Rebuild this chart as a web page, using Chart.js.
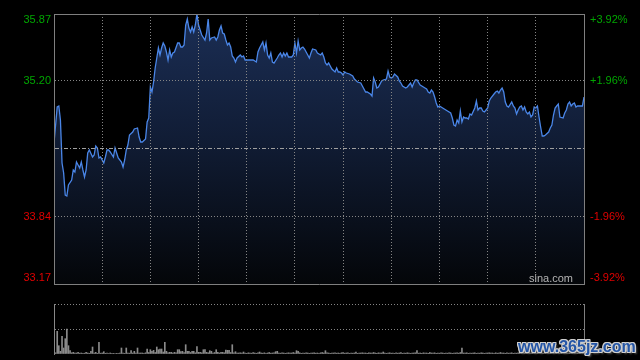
<!DOCTYPE html>
<html>
<head>
<meta charset="utf-8">
<script src="https://cdn.jsdelivr.net/npm/chart.js@4.4.1/dist/chart.umd.min.js"></script>
<style>
  html, body { margin: 0; padding: 0; background: #000; }
  #wrap { position: relative; width: 640px; height: 360px; overflow: hidden; background: #000; }
  #price { position: absolute; left: 0; top: 0; }
  #vol { position: absolute; left: 0; top: 296px; }
  #mark {
    position: absolute; left: 518px; top: 338px; line-height: 16px;
    font: bold 16px "Liberation Sans", Arial, sans-serif; color: #2455a6;
    text-shadow: 1px 0 0 #cfcfcf, -1px 0 0 #cfcfcf, 0 1px 0 #cfcfcf, 0 -1px 0 #cfcfcf,
      1px 1px 0 #cfcfcf, -1px -1px 0 #cfcfcf, 1px -1px 0 #cfcfcf, -1px 1px 0 #cfcfcf, 2px 2px 2px #555;
  }
</style>
</head>
<body>
<div id="wrap">
  <canvas id="price" width="640" height="296"></canvas>
  <canvas id="vol" width="640" height="64"></canvas>
  <div id="mark">www.365jz.com</div>
</div>
<script>
const GREEN = "#00a600";
const RED = "#e00000";
const FRAME = "#7f7f7f";
const GRID = "#858585";

const prevClose = 34.52;
const priceTicks = [33.17, 33.84, 34.52, 35.20, 35.87];
const priceLabels = ["33.17", "33.84", "", "35.20", "35.87"];
const pctLabels = ["-3.92%", "-1.96%", "", "+1.96%", "+3.92%"];
const timeTicks = [0, 30, 60, 90, 120, 150, 180, 210, 240, 270, 300, 330];
const volTicks = [0, 250, 500];

// minutes since the open
const minutes = [
  0, 2, 3, 4, 5, 6, 7, 8, 9, 11, 12, 13, 14, 15, 16, 17, 18, 19, 20, 21, 22, 24, 25, 26, 27, 28, 29, 30,
  31, 32, 33, 34, 35, 37, 38, 39, 40, 42, 43, 44, 45, 46, 47, 49, 50, 52, 53, 54, 55, 57, 58, 59, 60,
  61, 62, 63, 64, 65, 66, 67, 68, 69, 70, 71, 72, 73, 74, 75, 77, 78, 79, 80, 81, 82, 83, 84, 85, 86,
  87, 88, 89, 90, 91, 92, 94, 95, 96, 97, 98, 100, 101, 102, 103, 104, 105, 106, 107, 108, 109, 110,
  111, 112, 113, 114, 116, 117, 118, 119, 120, 122, 124, 126, 127, 128, 129, 130, 131, 132, 133, 134,
  135, 136, 137, 139, 140, 141, 142, 143, 144, 145, 146, 148, 149, 150, 151, 152, 153, 154, 155, 156,
  158, 159, 160, 161, 163, 164, 166, 167, 168, 169, 170, 171, 172, 173, 175, 176, 177, 178, 179, 180,
  181, 182, 184, 186, 187, 189, 191, 192, 194, 195, 197, 198, 199, 200, 201, 202, 204, 205, 207, 208,
  209, 210, 211, 212, 214, 215, 216, 217, 219, 220, 222, 223, 224, 225, 226, 228, 229, 231, 232, 233,
  234, 235, 236, 237, 238, 239, 240, 242, 243, 245, 247, 248, 249, 250, 251, 252, 253, 254, 255, 256,
  257, 258, 259, 260, 262, 263, 264, 265, 266, 267, 268, 269, 270, 271, 272, 274, 275, 276, 277, 278,
  279, 280, 281, 282, 283, 285, 286, 287, 288, 289, 290, 291, 292, 293, 294, 295, 296, 297, 298, 299,
  300, 301, 302, 303, 304, 305, 306, 308, 309, 310, 311, 312, 313, 314, 315, 317, 318, 319, 320, 321,
  322, 323, 324, 325, 326, 327, 329, 330
];

const prices = [
  34.58, 34.94, 34.95, 34.81, 34.38, 34.28, 34.06, 34.05, 34.16, 34.21, 34.31, 34.29, 34.39, 34.36,
  34.33, 34.39, 34.31, 34.24, 34.31, 34.48, 34.51, 34.44, 34.46, 34.55, 34.53, 34.43, 34.44, 34.41,
  34.38, 34.44, 34.51, 34.51, 34.49, 34.44, 34.53, 34.48, 34.43, 34.39, 34.34, 34.41, 34.51, 34.56,
  34.66, 34.69, 34.72, 34.73, 34.64, 34.59, 34.59, 34.62, 34.79, 34.83, 35.14,
  35.09, 35.19, 35.33, 35.43, 35.53, 35.46, 35.53, 35.58, 35.55, 35.49, 35.41, 35.51, 35.44, 35.48,
  35.49, 35.58, 35.58, 35.54, 35.54, 35.56, 35.76, 35.82, 35.73, 35.69, 35.74,
  35.69, 35.76, 35.87, 35.76, 35.71, 35.66, 35.61, 35.68, 35.82, 35.61, 35.63, 35.64, 35.61, 35.64,
  35.71, 35.75, 35.68, 35.67, 35.61, 35.56, 35.58, 35.54,
  35.45, 35.43, 35.39, 35.43, 35.46, 35.44, 35.45, 35.41, 35.41, 35.41, 35.41, 35.39, 35.49, 35.53,
  35.56, 35.59, 35.51, 35.58, 35.46, 35.43,
  35.48, 35.39, 35.38, 35.43, 35.46, 35.48, 35.44, 35.48, 35.45, 35.48, 35.44, 35.44, 35.46, 35.58,
  35.48, 35.60, 35.51, 35.53, 35.54, 35.52,
  35.46, 35.43, 35.48, 35.52, 35.51, 35.48, 35.46, 35.48, 35.44, 35.38, 35.36, 35.38, 35.35, 35.32,
  35.29, 35.33, 35.29, 35.29, 35.28, 35.26,
  35.29, 35.28, 35.27, 35.25, 35.22, 35.19, 35.18, 35.15, 35.09, 35.09, 35.07, 35.05, 35.23, 35.19,
  35.13, 35.14, 35.20, 35.21, 35.22, 35.30,
  35.24, 35.23, 35.24, 35.27, 35.24, 35.20, 35.18, 35.15, 35.13, 35.14, 35.18, 35.14, 35.18, 35.21,
  35.21, 35.16, 35.15, 35.13, 35.12, 35.09,
  35.08, 35.11, 35.09, 35.04, 34.98, 34.94, 34.95, 34.93, 34.92, 34.90, 34.88, 34.83, 34.76, 34.75,
  34.81, 34.78, 34.90, 34.79, 34.84, 34.83,
  34.83, 34.82, 34.87, 34.86, 34.93, 35.00, 34.91, 34.93, 34.93, 34.90, 34.89, 34.91, 34.93, 35.00,
  35.03, 35.07, 35.09, 35.10, 35.08, 35.11,
  35.13, 35.09, 34.99, 34.95, 34.94, 34.99, 34.95, 34.93, 34.87, 34.91, 34.94, 34.95, 34.91, 34.94,
  34.89, 34.87, 34.89, 34.84, 34.86, 34.94,
  34.93, 34.95, 34.84, 34.74, 34.65, 34.65, 34.66, 34.69, 34.73, 34.76, 34.86, 34.93, 34.95, 34.97,
  34.84, 34.83, 34.88, 34.91, 34.97, 34.99,
  34.95, 34.97, 34.98, 34.94, 34.95, 34.95, 34.95, 35.04
];

// one bar per minute, 0..330
const volumes = [
  500, 12, 227, 83, 27, 177, 60, 153, 250, 83,
  33, 12, 17, 8, 10, 17, 8, 10, 7, 8,
  17, 10, 7, 27, 70, 8, 17, 7, 117, 8,
  10, 23, 7, 10, 5, 10, 5, 3, 5, 7,
  5, 10, 60, 10, 7, 60, 10, 8, 33, 10,
  27, 8, 60, 8, 10, 10, 7, 12, 50, 15,
  43, 27, 37, 15, 70, 43, 50, 50, 20, 117,
  27, 12, 17, 17, 10, 17, 12, 43, 43, 23,
  27, 15, 93, 27, 27, 15, 27, 27, 12, 73,
  17, 17, 12, 43, 43, 17, 12, 33, 27, 10,
  15, 43, 17, 10, 17, 17, 12, 40, 37, 37,
  15, 93, 12, 23, 8, 10, 12, 8, 20, 10,
  7, 12, 10, 8, 15, 10, 7, 12, 20, 10,
  8, 12, 7, 10, 15, 8, 10, 12, 23, 27,
  10, 8, 12, 10, 7, 10, 12, 8, 10, 15,
  10, 33, 27, 12, 7, 10, 8, 12, 10, 7,
  8, 10, 12, 8, 10, 7, 12, 15, 10, 33,
  12, 10, 7, 8, 10, 12, 8, 10, 7, 12,
  15, 8, 10, 12, 7, 10, 8, 10, 20, 7,
  8, 10, 12, 8, 10, 7, 12, 10, 8, 15,
  10, 7, 12, 8, 10, 20, 8, 7, 10, 12,
  8, 10, 7, 12, 8, 10, 15, 7, 10, 8,
  12, 10, 7, 8, 10, 12, 33, 8, 10, 7,
  12, 8, 10, 7, 15, 10, 8, 12, 7, 10,
  8, 12, 10, 7, 10, 8, 12, 10, 7, 8,
  10, 12, 8, 15, 60, 10, 8, 12, 7, 10,
  8, 10, 12, 7, 10, 8, 12, 10, 7, 8,
  10, 12, 8, 10, 7, 12, 8, 10, 15, 8,
  10, 7, 12, 8, 10, 12, 7, 10, 8, 12,
  10, 7, 8, 12, 10, 8, 15, 10, 7, 12,
  8, 10, 12, 7, 10, 8, 12, 10, 7, 12,
  8, 10, 12, 7, 10, 8, 12, 10, 8, 7,
  10, 12, 8, 10, 7, 12, 10, 8, 12, 10,
  15
];

const FONT = "11px 'Liberation Sans', Arial, sans-serif";

const priceText = {
  id: "priceText",
  afterDraw(chart) {
    const { ctx, chartArea, scales } = chart;
    ctx.save();
    ctx.font = FONT;
    ctx.textBaseline = "middle";
    priceTicks.forEach((v, i) => {
      if (!priceLabels[i]) return;
      let py = scales.y.getPixelForValue(v);
      py = Math.min(Math.max(py, chartArea.top + 6), chartArea.bottom - 6);
      ctx.fillStyle = v > prevClose ? GREEN : RED;
      ctx.textAlign = "right";
      ctx.fillText(priceLabels[i], chartArea.left - 3, py);
      ctx.textAlign = "left";
      ctx.fillText(pctLabels[i], chartArea.right + 6, py);
    });
    ctx.fillStyle = "#b4b4b4";
    ctx.textAlign = "right";
    ctx.fillText("sina.com", chartArea.right - 11, chartArea.bottom - 5);
    ctx.restore();
  },
};

new Chart(document.getElementById("price"), {
  type: "line",
  data: {
    datasets: [
      {
        data: minutes.map((m, i) => ({ x: m, y: prices[i] })),
        borderColor: "#4a86e8",
        borderWidth: 1.3,
        pointRadius: 0,
        tension: 0,
        fill: "start",
        backgroundColor: (c) => {
          const area = c.chart.chartArea;
          if (!area) return "#0b1220";
          const g = c.chart.ctx.createLinearGradient(0, area.top, 0, area.bottom);
          g.addColorStop(0, "#1b2e55");
          g.addColorStop(0.45, "#111d36");
          g.addColorStop(1, "#040609");
          return g;
        },
      },
    ],
  },
  options: {
    responsive: false,
    animation: false,
    layout: { padding: { top: 14, bottom: 12, left: 0, right: 0 } },
    plugins: { legend: { display: false }, tooltip: { enabled: false } },
    scales: {
      x: {
        type: "linear",
        min: 0,
        max: 330,
        afterBuildTicks: (s) => { s.ticks = timeTicks.map((v) => ({ value: v })); },
        afterFit: (s) => { s.height = 0; },
        ticks: { display: false },
        grid: {
          z: 1,
          drawTicks: false,
          color: (c) => (c.index === 0 || c.index === timeTicks.length - 1 ? "rgba(0,0,0,0)" : GRID),
        },
        // border drawn after the grid layer so its position is already known
        border: { z: 1, color: FRAME, dash: (c) => (c.tick ? [1, 2] : []) },
      },
      y: {
        position: "left",
        min: priceTicks[0],
        max: priceTicks[priceTicks.length - 1],
        afterBuildTicks: (s) => { s.ticks = priceTicks.map((v) => ({ value: v })); },
        afterFit: (s) => { s.width = 54; },
        ticks: { display: false },
        grid: {
          z: 1,
          drawTicks: false,
          color: (c) => {
            if (c.index === priceTicks.length - 1) return FRAME;
            if (c.index === 0) return "rgba(0,0,0,0)";
            if (priceTicks[c.index] === prevClose) return "#a0a0a0";
            return GRID;
          },
        },
        border: {
          z: 1,
          color: FRAME,
          dash: (c) => {
            if (!c.tick || c.index === priceTicks.length - 1) return [];
            if (priceTicks[c.index] === prevClose) return [4, 2, 1, 2];
            return [1, 2];
          },
        },
      },
      y1: {
        position: "right",
        min: priceTicks[0],
        max: priceTicks[priceTicks.length - 1],
        afterFit: (s) => { s.width = 56; },
        ticks: { display: false },
        grid: { display: false, drawTicks: false },
        border: { color: FRAME },
      },
    },
  },
  plugins: [priceText],
});

new Chart(document.getElementById("vol"), {
  type: "bar",
  data: {
    labels: volumes.map((_, i) => i),
    datasets: [
      {
        data: volumes,
        backgroundColor: "#8a8a8a",
        barThickness: 1,
      },
    ],
  },
  options: {
    responsive: false,
    animation: false,
    layout: { padding: { top: 8, bottom: 6, left: 0, right: 0 } },
    plugins: { legend: { display: false }, tooltip: { enabled: false } },
    scales: {
      x: {
        offset: false,
        afterFit: (s) => { s.height = 0; },
        ticks: { display: false },
        grid: { display: false, drawTicks: false },
        border: { display: false },
      },
      y: {
        position: "left",
        min: 0,
        max: volTicks[volTicks.length - 1],
        afterBuildTicks: (s) => { s.ticks = volTicks.map((v) => ({ value: v })); },
        afterFit: (s) => { s.width = 54; },
        ticks: { display: false },
        grid: {
          drawTicks: false,
          color: (c) => (c.index === 0 ? "rgba(0,0,0,0)" : GRID),
        },
        border: { color: FRAME, dash: (c) => (c.tick ? [1, 2] : []) },
      },
      y1: {
        position: "right",
        min: 0,
        max: volTicks[volTicks.length - 1],
        afterFit: (s) => { s.width = 56; },
        ticks: { display: false },
        grid: { display: false, drawTicks: false },
        border: { color: FRAME },
      },
    },
  },
});
</script>
</body>
</html>
